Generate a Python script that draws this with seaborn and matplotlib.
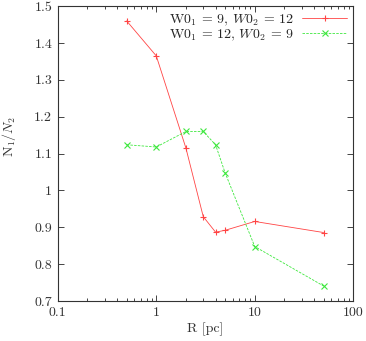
import matplotlib
matplotlib.use("Agg")
import matplotlib.pyplot as plt
import pandas as pd
import seaborn as sns
from matplotlib.ticker import FixedLocator, FixedFormatter, LogLocator, NullFormatter

R_PC = [0.5, 1, 2, 3, 4, 5, 10, 50]
RATIO_9_12 = [1.460, 1.365, 1.115, 0.929, 0.887, 0.892, 0.916, 0.886]
RATIO_12_9 = [1.124, 1.118, 1.160, 1.160, 1.124, 1.048, 0.848, 0.741]
LABEL_A = r"W0$_1$ = 9, $W0_2$ = 12"
LABEL_B = r"W0$_1$ = 12, $W0_2$ = 9"
X_TICKS = [0.1, 1, 10, 100]
X_TICK_LABELS = ["0.1", "1", "10", "100"]
Y_TICKS = [0.7, 0.8, 0.9, 1.0, 1.1, 1.2, 1.3, 1.4, 1.5]
Y_TICK_LABELS = ["0.7", "0.8", "0.9", "1", "1.1", "1.2", "1.3", "1.4", "1.5"]


def main() -> None:
    sns.set_style("ticks")
    plt.rcParams["font.family"] = ["cmr10", "DejaVu Serif"]
    plt.rcParams["mathtext.fontset"] = "cm"
    plt.rcParams["axes.unicode_minus"] = False

    fig, ax = plt.subplots(figsize=(3.66, 3.41), dpi=100)
    fig.subplots_adjust(left=0.158, right=0.965, top=0.982, bottom=0.117)

    series = [
        (RATIO_9_12, LABEL_A, "#ff4444", "+", "-"),
        (RATIO_12_9, LABEL_B, "#3ee83e", "x", (0, (3, 1.5))),
    ]
    for values, label, color, marker, ls in series:
        df = pd.DataFrame({"R": R_PC, "ratio": values})
        sns.lineplot(
            data=df, x="R", y="ratio", color=color, label=label,
            marker=marker, markersize=4, markeredgewidth=0.8,
            markeredgecolor=color, linewidth=0.6, linestyle=ls, ax=ax,
        )
    ax.set_xscale("log")
    ax.set_xlim(0.1, 100)
    ax.set_ylim(0.7, 1.5)

    ax.xaxis.set_major_locator(FixedLocator(X_TICKS))
    ax.xaxis.set_major_formatter(FixedFormatter(X_TICK_LABELS))
    ax.xaxis.set_minor_locator(LogLocator(base=10, subs=range(2, 10)))
    ax.xaxis.set_minor_formatter(NullFormatter())
    ax.yaxis.set_major_locator(FixedLocator(Y_TICKS))
    ax.yaxis.set_major_formatter(FixedFormatter(Y_TICK_LABELS))

    ax.tick_params(which="both", direction="in", top=True, right=True,
                   labelsize=10, width=0.6, pad=4, labelcolor="#333333")
    ax.tick_params(which="major", length=4)
    ax.tick_params(which="minor", length=2)
    for s in ax.spines.values():
        s.set_linewidth(0.8)
        s.set_color("#333333")

    ax.set_xlabel("R [pc]", fontsize=10, labelpad=3, color="#333333")
    ax.set_ylabel(r"N$_1$/$N_2$", fontsize=10, labelpad=4, color="#333333")
    ax.yaxis.set_label_coords(-0.135, 0.56)

    ax.legend(loc="upper right", frameon=False, markerfirst=False,
              fontsize=10, handlelength=3.2, borderaxespad=0.05,
              labelspacing=0.0, handletextpad=0.6)

    fig.savefig("out.png", dpi=100)
    plt.close(fig)


if __name__ == "__main__":
    main()
